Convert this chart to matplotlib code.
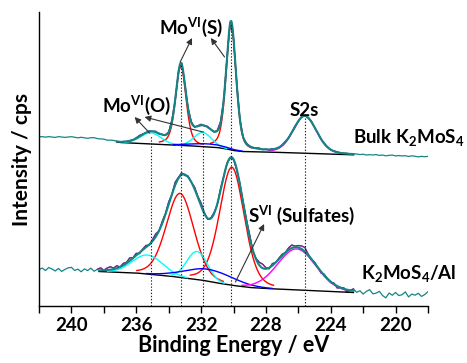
import numpy as np
import matplotlib
matplotlib.use("Agg")
import matplotlib.pyplot as plt

plt.rcParams['font.family'] = ['Lato', 'DejaVu Sans']
plt.rcParams['mathtext.fontset'] = 'custom'
plt.rcParams['mathtext.rm'] = 'Lato:bold'
plt.rcParams['mathtext.it'] = 'Lato:bold'
plt.rcParams['mathtext.bf'] = 'Lato:bold'

# measured energy grid, eV (0.2 eV step, high -> low)
energy = np.round(np.arange(242.0, 217.9, -0.2), 1)

# ---- Bulk K2MoS4 (upper trace) ----
bulk_bg_e = [242, 240, 238.5, 237.5, 237, 235, 233, 232, 231, 230.4, 230, 229.5, 228, 226, 224, 222.3, 220, 218]
bulk_bg_v = [169, 168.5, 167.5, 165, 163.5, 162, 160.5, 159.5, 158.5, 157, 155.5, 154.5, 154, 153, 152, 151, 150, 149]
bulk_fit = (237.2, 222.6)
# peak components: centre (eV), height, FWHM (eV), lorentz fraction
bulk_center = [233.25, 230.15, 235.1, 231.9, 231.6, 225.6]
bulk_height = [80, 127, 11, 14, 3, 37]
bulk_fwhm = [0.75, 0.72, 1.5, 1.3, 2.5, 1.7]
bulk_mix = [0.4, 0.4, 0.0, 0.0, 0.0, 0.2]
bulk_color = ['red', 'red', 'cyan', 'cyan', 'blue', 'magenta']
bulk_resid = [0, .3, -.2, .4, 0, -.3, .5, .2, -.2, .3,
              .6, .2, -.3, .4, 0, -.4, .3, .5, -.2, 0,
              .3, -.3, .2, .5, 0, -.5, .3, 0, .4, -.2,
              .5, 1, .3, -.4, .6, 0, .8, -.5, .4, .3,
              0, 1.5, -.8, .5, 1, -.5, 0, .7, -.6, .4,
              1, -.5, .8, 0, -.6, .5, 1.2, -.4, .3, .6,
              -.5, 1, .4, -.3, .6, 0, -.4, .5, .8, -.3,
              .4, -.2, .6, 0, -.5, .3, .7, -.4, .2, .5,
              -.3, .6, .2, -.4, .5, 0, .3, -.2, .4, .1,
              -.3, .2, .5, -.2, 0, .3, -.4, .2, .3, -.1,
              .4, -.3, .2, 0, .5, -.2, .3, -.4, .2, .6,
              -.2, .3, 0, .4, -.3, .5, .2, -.4, .3, 0, .5]

# ---- K2MoS4/Al (lower trace) ----
al_bg_e = [242, 240, 238.3, 236, 234, 233, 232, 231, 230, 229, 228, 226, 224, 222.6, 220, 218]
al_bg_v = [36, 36, 34.5, 33, 30, 28, 26, 23, 20.5, 18.5, 17.5, 16, 14.5, 13.5, 11, 10]
al_fit = (238.3, 222.6)
al_center = [233.3, 230.1, 235.3, 232.25, 231.5, 226.1]
al_height = [84, 118, 19, 28, 12, 41]
al_fwhm = [2.0, 1.8, 2.2, 1.5, 3.5, 2.8]
al_mix = [0.2, 0.25, 0.0, 0.0, 0.0, 0.1]
al_color = ['red', 'red', 'cyan', 'cyan', 'blue', 'magenta']
al_resid = [0, 1.5, -1, 2, .5, -1.5, 1, -2, 0, 1.5,
            2, -1, .5, -2, 1, -.5, 2, -1, 1, 2.5,
            0, 2, 3, 1, 2.5, 0, 2, 1, 3, .5,
            2, -1, 1, 2, -.5, 1.5, 3, 0, 2, 1,
            2.5, 0, 3, 1, 2, -1, 1, 0, 2, 1,
            3, 1, -1, .5, 1, -1, 2, 0, 1, -.5,
            0, -1, 1, .5, 2, 3, -1, 1, 3, 4,
            1, -1, 2, 0, 1, 1.5, 0, 2, 3, 1,
            2, 3, 4, 1, -1, 1, 0, -1.5, 1, 0,
            -1, 1, -2, 0, 1, -2.5, 0, 2, -1, 1,
            -2, 1, 3, -1, 0, 2, -2, -4, 1, -1,
            2, -1, 0, 3, -2, 1, 0, 2, -1, 1, 4]

# peak positions marked with dotted lines, and where each line starts
mark_e = [235.1, 233.25, 231.9, 230.15, 225.6]
mark_top = [171, 241, 175, 283, 188]

TEAL = '#138585'
PURPLE = '#8b1a8b'


def pv(e, c, h, w, m):
    g = np.exp(-4 * np.log(2) * (e - c) ** 2 / w ** 2)
    l = 1 / (1 + 4 * (e - c) ** 2 / w ** 2)
    return h * ((1 - m) * g + m * l)


def background(e, knots_e, knots_v):
    order = np.argsort(knots_e)
    return np.interp(e, np.array(knots_e)[order], np.array(knots_v)[order])


def draw_trace(ax, bg_e, bg_v, fit, cen, hgt, fw, mix, cols, resid):
    comps_raw = sum(pv(energy, c, h, w, m) for c, h, w, m in zip(cen, hgt, fw, mix))
    raw = background(energy, bg_e, bg_v) + comps_raw + np.array(resid)
    ax.plot(energy, raw, color=TEAL, lw=0.9, zorder=2)
    inside = (energy <= fit[0] + 0.1) & (energy >= fit[1] - 0.1)
    ax.plot(energy[inside], raw[inside], color=PURPLE, lw=0.9, zorder=3)

    ef = np.linspace(fit[0], fit[1], 800)
    bg = background(ef, bg_e, bg_v)
    ax.plot(ef, bg, color='black', lw=1.0, zorder=4)
    env = bg.copy()
    for c, h, w, m, col in zip(cen, hgt, fw, mix, cols):
        comp = pv(ef, c, h, w, m)
        env = env + comp
        y = np.where(comp > max(0.4, 0.03 * h), bg + comp, np.nan)
        ax.plot(ef, y, color=col, lw=1.0, zorder=5)
    ax.plot(ef, env, color=TEAL, lw=1.5, zorder=6)


fig = plt.figure(figsize=(4.67, 3.63), dpi=100)
ax = fig.add_axes([39 / 467, 57 / 363, 389 / 467, 294 / 363])

draw_trace(ax, bulk_bg_e, bulk_bg_v, bulk_fit, bulk_center, bulk_height,
           bulk_fwhm, bulk_mix, bulk_color, bulk_resid)
draw_trace(ax, al_bg_e, al_bg_v, al_fit, al_center, al_height,
           al_fwhm, al_mix, al_color, al_resid)

for e, top in zip(mark_e, mark_top):
    ax.plot([e, e], [0, top], color='#222222', lw=0.8, ls=(0, (1.2, 1.6)), zorder=7)

ax.set_xlim(242, 218)
ax.set_ylim(0, 294)
ax.set_xticks([240, 236, 232, 228, 224, 220])
ax.set_xticks(np.arange(242, 217, -2), minor=True)
ax.tick_params(axis='x', which='both', direction='out', length=5, width=1,
               labelsize=13.5, pad=3)
for t in ax.get_xticklabels():
    t.set_fontweight('bold')
ax.set_yticks([])
ax.spines['top'].set_visible(False)
ax.spines['right'].set_visible(False)
ax.spines['left'].set_linewidth(1)
ax.spines['bottom'].set_linewidth(1)

ax.set_xlabel('Binding Energy / eV', fontsize=15.5, fontweight='bold', labelpad=1)
ax.set_ylabel('Intensity / cps', fontsize=15, fontweight='bold', labelpad=5)

lab = dict(fontsize=13.5, fontweight='bold', zorder=8)
ax.text(232.62, 279, r'Mo$^{\mathrm{VI}}$(S)', ha='center', va='center', **lab)
ax.text(235.98, 201, r'Mo$^{\mathrm{VI}}$(O)', ha='center', va='center', **lab)
ax.text(225.61, 196, 'S2s', ha='center', va='center', **lab)
ax.text(222.62, 169, r'Bulk K$_2$MoS$_4$', ha='left', va='center', clip_on=False, **lab)
ax.text(222.13, 33, r'K$_2$MoS$_4$/Al', ha='left', va='center', clip_on=False, **lab)
ax.text(229.09, 91, r'S$^{\mathrm{VI}}$ (Sulfates)', ha='left', va='center', **lab)

arrows = [((233.29, 244), (232.56, 268)),
          ((230.55, 249), (231.40, 268)),
          ((235.18, 173), (236.10, 189)),
          ((231.89, 174), (235.49, 189)),
          ((229.88, 24), (228.11, 82))]
for tail, head in arrows:
    ax.annotate('', xy=head, xytext=tail, zorder=8,
                arrowprops=dict(arrowstyle='-|>', color='#333333', lw=0.8,
                                mutation_scale=9, shrinkA=0, shrinkB=0))

fig.savefig('out.png', dpi=100)
